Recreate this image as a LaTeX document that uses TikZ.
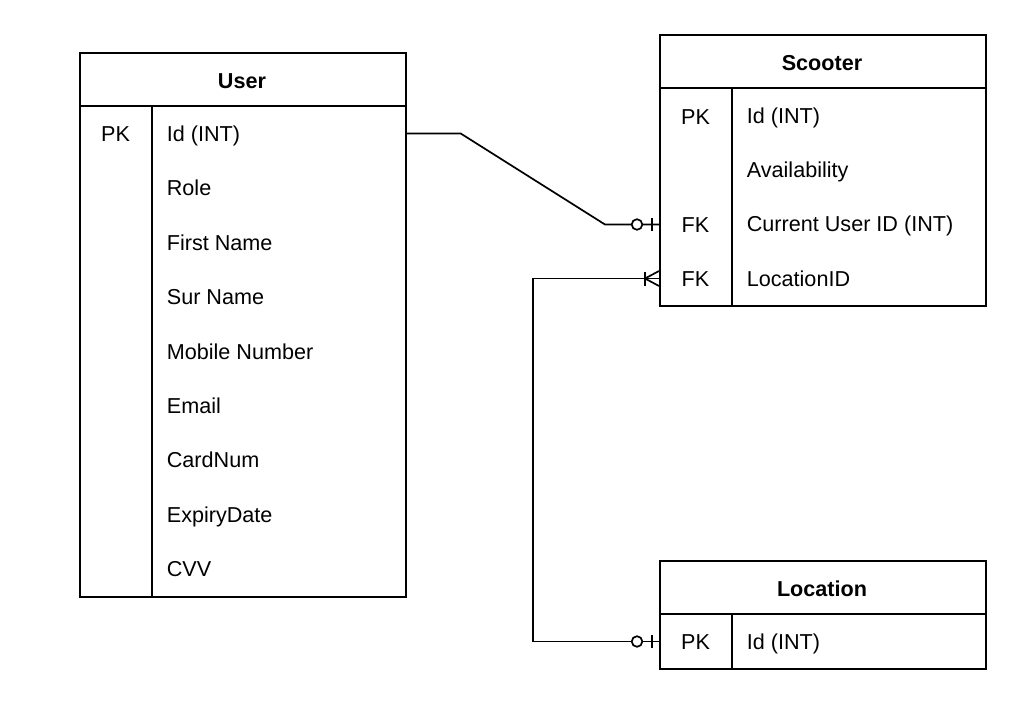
\documentclass[tikz,border=0pt]{standalone}
\usepackage{fontspec}
\setmainfont{Liberation Sans}
\usetikzlibrary{calc,positioning}

\begin{document}
\begin{tikzpicture}[x=1pt,y=-1pt,line width=1.7pt,
  tbl/.style={draw,anchor=north west,minimum width=326pt,inner sep=0pt},
  ttl/.style={font=\fontsize{21.6}{26}\selectfont\bfseries,text height=15.5pt,text depth=0pt,inner sep=0pt},
  row/.style={anchor=west,font=\fontsize{21.6}{26}\selectfont,text height=15.5pt,text depth=0pt,inner sep=0pt},
  keylbl/.style={font=\fontsize{21.6}{26}\selectfont,text height=15.5pt,text depth=0pt,inner sep=0pt}]
  \useasboundingbox (0,0) rectangle (1032,711);

  % User table
  \node[tbl,minimum height=544pt] (user) at (79,52) {};
  \draw (79,106) -- (405,106);
  \draw (152,106) -- (152,596);
  \node[ttl] (usertitle) at (242,80.5) {User};
  \node[keylbl] (upk) at (115.5,133.5) {PK};
  \foreach \lbl [count=\i] in {Id (INT),Role,First Name,Sur Name,Mobile Number,Email,CardNum,ExpiryDate,CVV}
    \node[row] (u\i) at (166,{106.5+54.4*(\i-0.5)}) {\lbl};

  % Scooter table
  \node[tbl,minimum height=271pt] (scooter) at (659,34) {};
  \draw (659,88) -- (985,88);
  \draw (732,88) -- (732,305);
  \node[ttl] (scootertitle) at (822,62.5) {Scooter};
  \node[keylbl] (spk) at (695.5,116.5) {PK};
  \node[keylbl] (sfk1) at (695.5,224.5) {FK};
  \node[keylbl] (sfk2) at (695.5,278.5) {FK};
  \foreach \lbl [count=\i] in {Id (INT),Availability,Current User ID (INT),LocationID}
    \node[row] (s\i) at (746,{88.5+54.25*(\i-0.5)}) {\lbl};

  % Location table
  \node[tbl,minimum height=108pt] (location) at (659,560) {};
  \draw (659,614) -- (985,614);
  \draw (732,614) -- (732,668);
  \node[ttl] (locationtitle) at (822,588.5) {Location};
  \node[keylbl] (lpk) at (695.5,641.5) {PK};
  \node[row] (l1) at (746,641.5) {Id (INT)};

  % user -> scooter (zero or one)
  \coordinate (uend) at (user.east |- upk);
  \coordinate (scur) at (scooter.west |- sfk1);
  \draw (uend) -- ++(54,0) -- ($(scur)+(-54,0)$) -- (scur);
  \draw[fill=white] ($(scur)+(-22,0)$) circle (5.3pt);
  \draw ($(scur)+(-7,-6.5)$) -- ++(0,13);

  % location -> scooter (many)
  \coordinate (lend) at (location.west |- lpk);
  \coordinate (sloc) at (scooter.west |- sfk2);
  \draw (lend) -- ++(-126,0) |- (sloc);
  \draw ($(sloc)+(-14,0)$) -- ($(sloc)+(0,-7.5)$);
  \draw ($(sloc)+(-14,0)$) -- ($(sloc)+(0,7.5)$);
  \draw ($(sloc)+(-14,-7)$) -- ++(0,14);
  \draw[fill=white] ($(lend)+(-22,0)$) circle (5.3pt);
  \draw ($(lend)+(-7,-6.5)$) -- ++(0,13);
\end{tikzpicture}
\end{document}
